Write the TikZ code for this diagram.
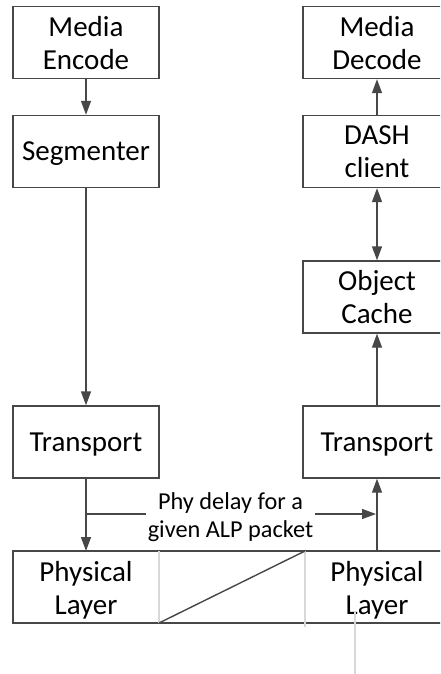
\documentclass[tikz,border=0pt]{standalone}
\usepackage{fontspec}
\setmainfont{Carlito}
\usetikzlibrary{arrows.meta}
\definecolor{ln}{HTML}{474747}
\definecolor{lg}{HTML}{D8D8D8}
\begin{document}
\begin{tikzpicture}[x=1pt,y=-1pt,
  box/.style={draw=ln,line width=1.4pt,fill=white,minimum width=146pt,minimum height=72pt,align=center,inner sep=0pt,text depth=0pt,font=\fontsize{29}{33}\selectfont},
  lbl/.style={inner sep=0pt,align=center,text depth=0pt,font=\fontsize{29}{33}\selectfont},
  conn/.style={draw=ln,line width=1.4pt,-{Triangle[length=14pt,width=10pt]}},
  bconn/.style={draw=ln,line width=1.4pt,{Triangle[length=14pt,width=10pt]}-{Triangle[length=14pt,width=10pt]}},
  thin/.style={draw=lg,line width=1.2pt}]
\useasboundingbox (0,0) rectangle (440,674);
\begin{scope}
\clip (0,0) rectangle (440,674);
% left column
\node[box] (me) at (86,42.5) {Media\\Encode};
\node[box] (seg) at (86,151.5) {Segmenter};
\node[box] (tl) at (86,442) {Transport};
% right column
\node[box,minimum width=148pt] (md) at (377,42.5) {Media\\Decode};
\node[box,minimum width=148pt] (dash) at (377,151.5) {DASH\\client};
\node[box,minimum width=148pt] (oc) at (377,297) {Object\\Cache};
\node[box,minimum width=148pt] (tr) at (377,442) {Transport};
% physical layer bar
\draw[ln,line width=1.4pt] (13,551) rectangle (452,623);
\coordinate (c1) at (159,551);
\coordinate (c2) at (159,623);
\coordinate (c3) at (305,551);
\coordinate (c4) at (305,627);
\draw[thin] (c1) -- (c2);
\draw[thin] (c3) -- (c4);
\draw[ln,line width=1.4pt] (c2) -- (c3);
\node[lbl] (pl) at (86,587.5) {Physical\\Layer};
\node[lbl] (pr) at (377,587.5) {Physical\\Layer};
\coordinate (g1) at (355,612);
\coordinate (g2) at (355,674);
\draw[thin] (g1) -- (g2);
% connectors
\draw[conn] (me) -- (seg);
\draw[conn] (seg) -- (tl);
\draw[conn] (dash) -- (md);
\draw[bconn] (dash) -- (oc);
\draw[conn] (tr) -- (oc);
\coordinate (pltop) at (86,551);
\coordinate (prtop) at (377,551);
\coordinate (br) at (86,514);
\coordinate (ar) at (376,514);
\draw[conn] (tl) -- (pltop);
\draw[conn] (prtop) -- (tr);
\draw[conn] (br) -- (ar);
\node[fill=white,inner sep=2pt,align=center,font=\fontsize{24.3}{28}\selectfont] (lab) at (230.5,517) {Phy delay for a\\given ALP packet};
\end{scope}
\end{tikzpicture}
\end{document}
